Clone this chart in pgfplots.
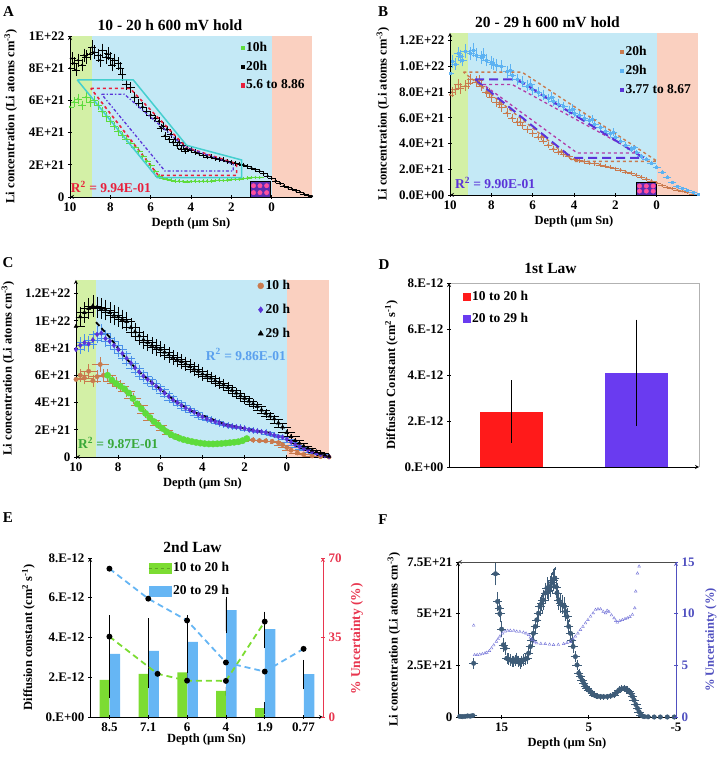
\documentclass[border=0pt]{standalone}
\usepackage{fontspec}
\setmainfont{Liberation Serif}
\usepackage{pgfplots}
\pgfplotsset{compat=1.18}
\definecolor{bgG}{HTML}{D3F0A6}
\definecolor{bgB}{HTML}{C4E9F6}
\definecolor{bgP}{HTML}{FAD0C0}
\definecolor{cGreen}{HTML}{5EDC3C}
\definecolor{cRed}{HTML}{E8203C}
\definecolor{cCyan}{HTML}{45CFCF}
\definecolor{cPurp}{HTML}{5B34D8}
\definecolor{cBrown}{HTML}{C97A4E}
\definecolor{cLBlue}{HTML}{5CB2F2}
\definecolor{cMag}{HTML}{B23AA8}
\definecolor{cBox}{HTML}{5A2DB0}
\definecolor{cPink}{HTML}{FF4FA0}
\definecolor{cBarR}{HTML}{FF1A1A}
\definecolor{cBarB}{HTML}{6A3BF0}
\definecolor{cEG}{HTML}{7CDC32}
\definecolor{cEB}{HTML}{66B6F4}
\definecolor{cERed}{HTML}{E8364F}
\definecolor{cF}{HTML}{3E5C78}
\definecolor{cFT}{HTML}{7474D8}
\definecolor{cFAx}{HTML}{5050C0}
\definecolor{cR2B}{HTML}{5AA0EE}
\definecolor{cR2G}{HTML}{38A838}
\definecolor{cErrB}{HTML}{4A90E8}
\newcommand\tickfont{\fontsize{13}{14}\selectfont\bfseries}
\newcommand\labfont{\fontsize{12.5}{14}\selectfont\bfseries}
\newcommand\legfont{\fontsize{13.5}{15}\selectfont\bfseries}
\newcommand\titfont{\fontsize{15.5}{17}\selectfont\bfseries}
\newcommand\letfont{\fontsize{15}{16}\selectfont\bfseries}
\pgfplotsset{
  base/.style={scale only axis, anchor=south west, axis on top,
    tick align=outside, major tick length=4pt,
    every tick/.append style={black, line width=0.7pt},
    tick label style={font=\tickfont},
    label style={font=\labfont},
    axis line style={-, black, line width=0.8pt},
    /pgf/number format/assume math mode=true,
    legend cell align=left},
  scat/.style={only marks, mark=*, mark size=0.9pt, #1,
    error bars/x dir=both, error bars/x fixed=0.15, error bars/y dir=both, error bars/y fixed relative=0.04,
    error bars/error bar style={line width=0.35pt, #1}, error bars/error mark options={mark size=1pt, #1}},
  scatC/.style 2 args={only marks, mark=#2, mark size=2.2pt, #1,
    error bars/x dir=both, error bars/x fixed=0.33, error bars/y dir=both, error bars/y fixed relative=0.06,
    error bars/error mark options={mark size=1.6pt}},
}
\begin{document}
\begin{tikzpicture}
\useasboundingbox (0,0) rectangle (719pt,757pt);
\node[font=\letfont] at (8.5pt,745pt) {A};
\node[font=\letfont] at (383pt,745.5pt) {B};
\node[font=\letfont] at (8pt,494pt) {C};
\node[font=\letfont] at (384pt,492pt) {D};
\node[font=\letfont] at (8pt,239pt) {E};
\node[font=\letfont] at (383pt,237pt) {F};
\node[font=\titfont] at (170pt,732pt) {10 - 20 h 600 mV hold};
\node[font=\titfont] at (547.5pt,735pt) {20 - 29 h 600 mV hold};
\node[font=\titfont] at (550.5pt,489pt) {1st Law};
\node[font=\titfont] at (192.5pt,210pt) {2nd Law};
\node[rotate=90, font=\fontsize{13.5}{15}\selectfont\bfseries, text=cERed] at (357pt,118pt) {\% Uncertainty (\%)};
\node[rotate=90, font=\labfont, text=cFAx] at (711pt,117pt) {\% Uncertainty (\%)};

% ---------------- A ----------------
\begin{axis}[base, at={(70pt,560pt)}, width=242pt, height=161pt,
  x dir=reverse, xmin=-2, xmax=10, ymin=0, ymax=10,
  axis x line=bottom, axis y line=left,
  xtick={10,8,6,4,2,0}, xticklabels={10,8,6,4,2,0},
  ytick={0,2,4,6,8,10}, yticklabels={0,2E+21,4E+21,6E+21,8E+21,1E+22},
  xlabel={Depth (µm Sn)}, ylabel={Li concentration (Li atoms cm\textsuperscript{-3})},
  ylabel style={yshift=5pt},
  legend style={at={(0.979,0.975)}, anchor=north east, draw=none, fill=none, font=\legfont, row sep=4pt, inner sep=0pt}]
\addplot[fill=bgG, draw=none, forget plot] coordinates {(10,10)(8.92,10)} \closedcycle;
\addplot[fill=bgB, draw=none, forget plot] coordinates {(8.92,10)(0,10)} \closedcycle;
\addplot[fill=bgP, draw=none, forget plot] coordinates {(0,10)(-2,10)} \closedcycle;
\addplot[forget plot, scat=cGreen] coordinates {(10.0,5.6)(9.8,5.9)(9.6,6.1)(9.4,5.7)(9.2,6.2)(9.0,5.9)(8.8,6.0)(8.6,5.7)(8.4,5.3)(8.2,5.0)(8.0,4.7)(7.8,4.4)(7.6,4.1)(7.4,3.85)(7.2,3.6)(7.0,3.35)(6.8,3.1)(6.6,2.85)(6.4,2.55)(6.2,2.25)(6.0,1.95)(5.8,1.6)(5.6,1.3)(5.4,1.15)(5.2,1.1)(5.0,1.05)(4.8,1.0)(4.6,1.0)(4.4,0.97)(4.2,0.95)(4.0,0.97)(3.8,1.0)(3.6,0.98)(3.4,1.0)(3.2,1.0)(3.0,1.0)(2.8,1.02)(2.6,1.05)(2.4,1.03)(2.2,1.05)(2.0,1.08)(1.8,1.1)(1.6,1.12)(1.4,1.15)(1.2,1.18)(1.0,1.2)(0.8,1.22)(0.6,1.2)};
\addplot[forget plot, scat=black] coordinates {(10.0,8.0)(9.8,8.3)(9.6,8.5)(9.4,8.2)(9.2,8.7)(9.0,8.9)(8.8,9.0)(8.6,8.8)(8.4,9.1)(8.2,8.7)(8.0,8.6)(7.8,8.5)(7.6,8.3)(7.4,7.6)(7.2,7.0)(7.0,6.8)(6.8,6.2)(6.6,5.8)(6.4,5.6)(6.2,5.3)(6.0,5.1)(5.8,4.9)(5.6,4.7)(5.4,4.4)(5.2,4.2)(5.0,3.9)(4.8,3.6)(4.6,3.4)(4.4,3.2)(4.2,3.0)(4.0,2.9)(3.8,2.8)(3.6,2.7)(3.4,2.6)(3.2,2.5)(3.0,2.5)(2.8,2.4)(2.6,2.35)(2.4,2.3)(2.2,2.2)(2.0,2.15)(1.8,2.1)(1.6,2.05)(1.4,2.0)(1.2,1.9)(1.0,1.8)(0.8,1.7)(0.6,1.6)(0.4,1.45)(0.2,1.3)(0.0,1.15)(-0.2,1.0)(-0.4,0.85)(-0.6,0.7)(-0.8,0.6)(-1.0,0.5)(-1.2,0.4)(-1.4,0.3)(-1.6,0.2)(-1.8,0.12)(-2.0,0.05)
(9.9,8.6)(9.7,7.9)(9.3,8.8)(8.9,9.3)(8.5,8.5)(8.1,8.9)(7.9,8.2)(7.5,8.0)(5.5,4.3)(5.3,3.8)(5.1,3.6)(4.9,3.4)(4.7,3.2)(4.5,3.0)(4.3,2.85)};
\addplot[fill=cBox, draw=black, line width=0.8pt, forget plot] coordinates {(1.07,0.97)(0.08,0.97)} \closedcycle;
\addplot[only marks, mark=*, mark size=2.2pt, cPink, forget plot] coordinates {(0.9,0.27)(0.58,0.27)(0.25,0.27)(0.9,0.7)(0.58,0.7)(0.25,0.7)};
\addplot[cCyan, line width=1.5pt, forget plot] coordinates {(9.64,7.27)(6.86,7.27)(4.22,3.21)(1.49,2.3)(1.49,1.2)(5.67,1.2)(9.64,7.27)};
\addplot[cRed, line width=1.6pt, dashed, forget plot] coordinates {(8.97,6.75)(7.03,6.75)(4.22,3.07)(1.74,2.07)(1.74,1.34)(5.62,1.34)(8.97,6.75)};
\addplot[cPurp, line width=1.3pt, dash dot, forget plot] coordinates {(8.43,6.38)(7.3,6.38)(4.3,3.1)(1.9,2.05)(1.9,1.61)(5.29,1.61)(8.43,6.38)};
\node[font=\legfont, color=cRed] at (axis cs:7.97,0.62) {R\textsuperscript{2} = 9.94E-01};
\addlegendimage{only marks, mark=square*, mark size=1.6pt, cGreen}
\addlegendimage{only marks, mark=square*, mark size=1.2pt, black}
\addlegendimage{only marks, mark=square*, mark size=1.6pt, cRed}
\legend{10h,20h,5.6 to 8.86}
\end{axis}

% ---------------- B ----------------
\begin{axis}[base, at={(450pt,562pt)}, width=248pt, height=162pt,
  x dir=reverse, xmin=-2, xmax=10, ymin=0, ymax=12.6,
  axis x line=bottom, axis y line=left,
  xtick={10,8,6,4,2,0}, xticklabels={10,8,6,4,2,0},
  ytick={0,2,4,6,8,10,12}, yticklabels={0.0E+00,2.0E+21,4.0E+21,6.0E+21,8.0E+21,1.0E+22,1.2E+22},
  xlabel={Depth (µm Sn)}, ylabel={Li concentration (Li atoms cm\textsuperscript{-3})},
  ylabel style={yshift=3pt},
  legend style={at={(0.98,0.93)}, anchor=north east, draw=none, fill=none, font=\legfont, row sep=4pt, inner sep=0pt}]
\addplot[fill=bgG, draw=none, forget plot] coordinates {(10,12.6)(9.13,12.6)} \closedcycle;
\addplot[fill=bgB, draw=none, forget plot] coordinates {(9.13,12.6)(0,12.6)} \closedcycle;
\addplot[fill=bgP, draw=none, forget plot] coordinates {(0,12.6)(-2,12.6)} \closedcycle;
\addplot[forget plot, scat=cBrown] coordinates {(10,7.8)(9.75,8.2)(9.5,8.3)(9.25,8.5)(9,9.0)(8.75,8.8)(8.5,8.5)(8.25,8.0)(8,7.6)(7.75,7.2)(7.5,6.8)(7.25,6.4)(7,6.0)(6.75,5.7)(6.5,5.4)(6.25,5.1)(6,4.8)(5.75,4.5)(5.5,4.2)(5.25,3.9)(5,3.6)(4.75,3.35)(4.5,3.15)(4.25,3.0)(4,2.8)(3.75,2.7)(3.5,2.6)(3.25,2.5)(3,2.45)(2.75,2.35)(2.5,2.25)(2.25,2.15)(2,2.05)(1.75,1.95)(1.5,1.8)(1.25,1.7)(1,1.55)(0.75,1.4)(0.5,1.25)(0.25,1.1)(0,0.95)(-0.25,0.75)(-0.5,0.6)(-0.75,0.5)(-1,0.4)(-1.25,0.3)(-1.5,0.2)(-1.75,0.1)(-2,0.05)
(9.9,8.0)(9.6,8.6)(9.1,8.7)(8.6,8.9)(8.1,7.9)(7.6,7.1)(6.6,5.7)(5.6,4.5)(4.6,3.4)};
\addplot[only marks, mark=square*, mark size=1pt, cLBlue, forget plot, error bars/.cd, x dir=both, x fixed=0.15, y dir=both, y fixed relative=0.04, error bar style={line width=0.35pt, cLBlue}, error mark options={mark size=1pt, cLBlue}] coordinates {(10,9.5)(9.75,10.2)(9.5,10.8)(9.25,11.2)(9,11.0)(8.75,10.9)(8.5,10.7)(8.25,10.5)(8,10.3)(7.75,10.1)(7.5,10.0)(7.25,9.6)(7,9.3)(6.75,9.0)(6.5,8.8)(6.25,8.5)(6,8.2)(5.75,8.0)(5.5,7.8)(5.25,7.5)(5,7.3)(4.75,7.1)(4.5,6.9)(4.25,6.6)(4,6.4)(3.75,6.2)(3.5,6.0)(3.25,5.8)(3,5.5)(2.75,5.3)(2.5,5.0)(2.25,4.8)(2,4.5)(1.75,4.2)(1.5,3.9)(1.25,3.6)(1,3.3)(0.75,3.0)(0.5,2.8)(0.25,2.5)(0,2.2)(-0.25,1.8)(-0.5,1.4)(-0.75,1.0)(-1,0.7)(-1.25,0.5)(-1.5,0.35)(-1.75,0.2)(-2,0.1)
(9.9,10.4)(9.6,11.0)(9.4,10.5)(8.9,11.3)(8.4,10.9)(7.9,10.2)(7.1,9.7)(6.1,8.6)(5.1,7.6)(4.1,6.7)(3.1,5.9)(2.1,4.9)(1.1,3.7)};
\addplot[fill=cBox, draw=black, line width=0.8pt, forget plot] coordinates {(1.0,0.96)(0.0,0.96)} \closedcycle;
\addplot[only marks, mark=*, mark size=2.2pt, cPink, forget plot] coordinates {(0.83,0.3)(0.5,0.3)(0.17,0.3)(0.83,0.7)(0.5,0.7)(0.17,0.7)};
\addplot[cBrown, line width=1.4pt, dashed, forget plot] coordinates {(9.35,9.56)(6.52,9.56)(-0.03,2.62)(4.0,2.62)(9.35,9.56)};
\addplot[cMag, line width=1.3pt, dashed, forget plot] coordinates {(8.4,8.6)(7.0,8.6)(0.94,3.27)(3.85,3.27)(8.4,8.6)};
\addplot[cPurp, line width=2pt, dash pattern=on 9pt off 5pt, forget plot] coordinates {(8.79,8.99)(6.76,8.99)(0.62,2.88)(4.1,2.88)(8.79,8.99)};
\node[font=\legfont, color=cPurp] at (axis cs:7.82,0.94) {R\textsuperscript{2} = 9.90E-01};
\addlegendimage{only marks, mark=square*, mark size=1.6pt, cBrown}
\addlegendimage{only marks, mark=square*, mark size=1.8pt, cLBlue}
\addlegendimage{only marks, mark=square*, mark size=1.6pt, cPurp}
\legend{20h,29h,3.77 to 8.67}
\end{axis}

% ---------------- C ----------------
\begin{axis}[base, at={(76pt,300pt)}, width=253pt, height=177pt,
  x dir=reverse, xmin=-2, xmax=10, ymin=0, ymax=13,
  axis x line=bottom, axis y line=left,
  xtick={10,8,6,4,2,0}, xticklabels={10,8,6,4,2,0},
  ytick={0,2,4,6,8,10,12}, yticklabels={0,2E+21,4E+21,6E+21,8E+21,1E+22,1.2E+22},
  xlabel={Depth (µm Sn)}, ylabel={Li concentration (Li atoms cm\textsuperscript{-3})},
  ylabel style={yshift=4pt},
  legend style={at={(0.855,1.01)}, anchor=north east, draw=none, fill=none, font=\legfont, row sep=9pt, inner sep=0pt}]
\addplot[fill=bgG, draw=none, forget plot] coordinates {(10,13)(9.05,13)} \closedcycle;
\addplot[fill=bgB, draw=none, forget plot] coordinates {(9.05,13)(0,13)} \closedcycle;
\addplot[fill=bgP, draw=none, forget plot] coordinates {(0,13)(-2,13)} \closedcycle;
\addplot[forget plot, scatC={cBrown}{*}] coordinates {(10,5.7)(9.8,6.0)(9.6,5.8)(9.4,6.3)(9.2,5.6)(9.0,5.9)(8.85,6.8)(8.7,6.0)(8.5,6.0)(8.3,5.6)(8.1,5.4)(7.9,5.2)(7.6,4.8)(7.3,4.3)(7.0,3.8)(6.7,3.2)(6.4,2.7)(6.1,2.35)(5.8,2.0)(5.5,1.65)(5.2,1.45)(4.9,1.28)(4.6,1.15)(4.3,1.07)(4.0,1.0)(3.7,0.96)(3.4,0.96)(3.1,0.99)(2.8,1.03)(2.5,1.08)(2.2,1.15)(1.9,1.3)(1.6,1.25)(1.3,1.2)(1.0,1.18)(0.7,1.15)(0.4,1.05)(0.2,0.9)(0.0,0.7)(-0.2,0.5)(-0.5,0.3)(-0.8,0.18)(-1.2,0.08)(-1.6,0.03)(-2.0,0.0)};
\addplot[only marks, mark=*, mark size=3.2pt, cGreen, forget plot] coordinates {(8.5,6.0)(8.3,5.65)(8.1,5.4)(7.9,5.2)(7.7,5.0)(7.5,4.7)(7.3,4.3)(7.1,3.9)(6.9,3.55)(6.7,3.2)(6.5,2.9)(6.3,2.6)(6.1,2.35)(5.9,2.1)(5.7,1.85)(5.5,1.65)(5.3,1.5)(5.1,1.38)(4.9,1.28)(4.7,1.2)(4.5,1.13)(4.3,1.07)(4.1,1.02)(3.9,0.98)(3.7,0.96)(3.5,0.96)(3.3,0.97)(3.1,0.99)(2.9,1.02)(2.7,1.05)(2.5,1.08)(2.3,1.12)(2.1,1.2)(1.9,1.35)};
\addplot[black, line width=1.8pt, dash pattern=on 1.8pt off 3.2pt, forget plot] coordinates {(8.5,6.0)(8.3,5.65)(8.1,5.4)(7.9,5.2)(7.7,5.0)(7.5,4.7)(7.3,4.3)(7.1,3.9)(6.9,3.55)(6.7,3.2)(6.5,2.9)(6.3,2.6)(6.1,2.35)(5.9,2.1)(5.7,1.85)(5.5,1.65)(5.3,1.5)(5.1,1.38)(4.9,1.28)(4.7,1.2)(4.5,1.13)(4.3,1.07)(4.1,1.02)(3.9,0.98)(3.7,0.96)(3.5,0.96)(3.3,0.97)(3.1,0.99)(2.9,1.02)(2.7,1.05)(2.5,1.08)(2.3,1.12)(2.1,1.2)(1.9,1.35)};
\addplot[only marks, mark=diamond*, mark size=2.4pt, cPurp, forget plot, error bars/.cd, x dir=both, x fixed=0.33, y dir=both, y fixed relative=0.06, error bar style={cErrB}, error mark options={mark size=1.6pt, cErrB}] coordinates {(10,7.9)(9.8,8.2)(9.6,8.4)(9.4,8.3)(9.2,8.6)(9.0,9.0)(8.8,9.1)(8.6,8.7)(8.4,8.5)(8.2,8.2)(8.0,7.9)(7.8,7.6)(7.6,7.25)(7.4,6.9)(7.2,6.55)(7.0,6.25)(6.8,5.95)(6.6,5.7)(6.4,5.45)(6.2,5.2)(6.0,4.95)(5.8,4.7)(5.6,4.45)(5.4,4.2)(5.2,4.0)(5.0,3.8)(4.8,3.6)(4.6,3.45)(4.4,3.3)(4.2,3.1)(4.0,2.95)(3.8,2.8)(3.6,2.7)(3.4,2.6)(3.2,2.5)(3.0,2.4)(2.8,2.3)(2.6,2.25)(2.4,2.2)(2.2,2.15)(2.0,2.1)(1.8,2.0)(1.6,1.95)(1.4,1.9)(1.2,1.85)(1.0,1.8)(0.8,1.7)(0.6,1.6)(0.4,1.5)(0.2,1.45)(0.0,1.3)(-0.2,1.1)(-0.4,0.9)(-0.6,0.75)(-0.8,0.6)(-1.0,0.5)(-1.2,0.38)(-1.4,0.28)(-1.6,0.18)(-1.8,0.1)(-2.0,0.03)};
\addplot[black, line width=1.8pt, dash pattern=on 5pt off 3pt, forget plot] coordinates {(9.05,9.9)(8.42,8.83)(7.63,7.24)(6.84,6.02)(6.05,5.05)(5.26,4.07)(4.47,3.34)(3.68,2.86)(2.89,2.37)(2.1,2.12)(1.31,1.88)(0.68,1.76)};
\addplot[forget plot, scatC={black}{triangle*}] coordinates {(10,9.6)(9.8,10.3)(9.6,10.6)(9.4,10.9)(9.2,11.1)(9.0,11.0)(8.8,10.9)(8.6,10.8)(8.4,10.6)(8.2,10.4)(8.0,10.3)(7.8,10.1)(7.6,9.95)(7.4,9.5)(7.2,9.2)(7.0,8.9)(6.8,8.6)(6.6,8.4)(6.4,8.2)(6.2,8.05)(6.0,7.9)(5.8,7.7)(5.6,7.5)(5.4,7.3)(5.2,7.15)(5.0,7.0)(4.8,6.85)(4.6,6.65)(4.4,6.45)(4.2,6.3)(4.0,6.1)(3.8,5.95)(3.6,5.8)(3.4,5.6)(3.2,5.45)(3.0,5.3)(2.8,5.1)(2.6,4.9)(2.4,4.7)(2.2,4.5)(2.0,4.3)(1.8,4.1)(1.6,3.9)(1.4,3.7)(1.2,3.45)(1.0,3.2)(0.8,3.0)(0.6,2.8)(0.4,2.5)(0.2,2.2)(0.0,1.8)(-0.2,1.5)(-0.4,1.2)(-0.6,1.0)(-0.8,0.8)(-1.0,0.65)(-1.2,0.5)(-1.4,0.38)(-1.6,0.27)(-1.8,0.15)(-2.0,0.05)};
\node[font=\legfont, color=cR2B] at (axis cs:1.94,7.53) {R\textsuperscript{2} = 9.86E-01};
\node[font=\legfont, color=cR2G] at (axis cs:8.0,1.02) {R\textsuperscript{2} = 9.87E-01};
\addlegendimage{only marks, mark=*, mark size=3pt, cBrown}
\addlegendimage{only marks, mark=diamond*, mark size=3pt, cPurp}
\addlegendimage{only marks, mark=triangle*, mark size=3pt, black}
\legend{10 h,20 h,29 h}
\end{axis}

% ---------------- D ----------------
\begin{axis}[base, at={(449pt,290pt)}, width=250pt, height=184pt, clip=false,
  xmin=0, xmax=2, ymin=0, ymax=8,
  axis x line=bottom, axis y line=left,
  xtick=\empty, ytick={0,2,4,6,8}, yticklabels={0.E+00,2.E-12,4.E-12,6.E-12,8.E-12},
  ylabel={Diffusion Constant (cm\textsuperscript{2} s\textsuperscript{-1})},
  legend style={at={(0.056,0.967)}, anchor=north west, draw=none, fill=none, font=\legfont, row sep=7pt, inner sep=0pt}]
\addplot[gray!60, line width=0.7pt, forget plot] coordinates {(0,8)(2,8)(2,0)};
\addplot[ybar, bar width=0.5, fill=cBarR, draw=none, forget plot, error bars/.cd, y dir=both, y explicit, error bar style={black, line width=0.7pt}, error mark options={black, mark size=3.5pt, line width=0.7pt}] coordinates {(0.5,2.4) += (0,1.23) -= (0,1.2)};
\addplot[ybar, bar width=0.5, fill=cBarB, draw=none, forget plot, error bars/.cd, y dir=both, y explicit, error bar style={black, line width=0.7pt}, error mark options={black, mark size=3.5pt, line width=0.7pt}] coordinates {(1.5,4.1) += (0,2.15) -= (0,2.15)};
\addlegendimage{only marks, mark=square*, mark size=3.5pt, cBarR}
\addlegendimage{only marks, mark=square*, mark size=3.5pt, cBarB}
\legend{10 to 20 h,20 to 29 h}
\end{axis}

% ---------------- E ----------------
\begin{axis}[base, at={(90pt,40pt)}, width=233pt, height=159pt,
  xmin=-0.5, xmax=5.5, ymin=0, ymax=8,
  axis x line=bottom, axis y line=left,
  xtick={0,1,2,3,4,5}, xticklabels={8.5,7.1,6,4,1.9,0.77},
  ytick={0,2,4,6,8}, yticklabels={0.E+00,2.E-12,4.E-12,6.E-12,8.E-12},
  xlabel={Depth (µm Sn)}, xlabel style={yshift=4pt},
  ylabel={Diffusion constant (cm\textsuperscript{2} s\textsuperscript{-1})},
  ylabel style={yshift=4pt},
  legend style={at={(0.249,0.985)}, anchor=north west, draw=none, fill=none, font=\legfont, row sep=8pt, inner sep=0pt}]
\addplot[ybar, bar width=0.25, bar shift=-0.125, fill=cEG, draw=none, forget plot, error bars/.cd, y dir=both, y explicit, error bar style={black, line width=0.7pt}, error mark options={black, mark size=2.5pt, line width=0.7pt}] coordinates {(0,1.87) += (0,0.63) -= (0,0.67) (1,2.17) += (0,0.47) -= (0,0.51) (2,2.25) += (0,0.35) -= (0,0.38) (3,1.32) += (0,0.2) -= (0,0.25) (4,0.45) += (0,0.17) -= (0,0.18)};
\addplot[ybar, bar width=0.27, bar shift=0.14, fill=cEB, draw=none, forget plot, error bars/.cd, y dir=both, y explicit, error bar style={black, line width=0.7pt}, error mark options={black, mark size=2.5pt, line width=0.7pt}] coordinates {(0,3.18) += (0,1.82) -= (0,2.1) (1,3.33) += (0,1.52) -= (0,1.75) (2,3.78) += (0,1.22) -= (0,1.43) (3,5.38) += (0,0.55) -= (0,1.05) (4,4.42) += (0,0.75) -= (0,0.83) (5,2.16) += (0,0.59) -= (0,0.64)};
\addlegendimage{legend image code/.code={\fill[cEG] (0pt,-5pt) rectangle (22pt,5pt); \draw[cEG!75!black, line width=1pt, dashed] (0pt,0pt) -- (22pt,0pt);}}
\addlegendimage{legend image code/.code={\fill[cEB] (0pt,-5pt) rectangle (22pt,5pt);}}
\legend{10 to 20 h,20 to 29 h}
\end{axis}
\begin{axis}[base, at={(90pt,40pt)}, width=233pt, height=159pt,
  xmin=-0.5, xmax=5.5, ymin=0, ymax=70,
  axis x line=none, axis y line=right,
  y axis line style={cERed}, ytick style={cERed},
  ytick={0,35,70}, yticklabels={0,35,70}, yticklabel style={cERed}]
\addplot[cEG, line width=1.8pt, dash pattern=on 6pt off 4pt, mark=*, mark size=2pt, mark options={black, solid}] coordinates {(0,35.4)(1.24,19)(2,16)(3,15.9)(4,42)};
\addplot[cEB, line width=1.8pt, dash pattern=on 6pt off 4pt, mark=*, mark size=2pt, mark options={black, solid}] coordinates {(0,65.3)(1,52.1)(2,42.5)(3,24)(4,20)(5,30)};
\end{axis}

% ---------------- F ----------------
\begin{axis}[base, at={(458pt,40pt)}, width=218pt, height=155pt,
  x dir=reverse, xmin=-5, xmax=20, ymin=0, ymax=7.5,
  axis x line=bottom, axis y line=left,
  xtick={15,5,-5}, xticklabels={15,5,-5},
  ytick={0,2.5,5,7.5}, yticklabels={0,2.5E+21,5E+21,7.5E+21},
  xlabel={Depth (µm Sn)},
  ylabel={Li concentration (Li atoms cm\textsuperscript{-3})}]
\addplot[only marks, mark=*, mark size=2.3pt, cF, error bars/.cd, x dir=both, x fixed=0.35, y dir=both, y fixed relative=0.07, error bar style={cF, line width=0.6pt}, error mark options={cF, mark size=1.6pt}] coordinates {(19.8,0.03)(19.5,0.02)(19.2,0.03)(18.9,0.05)(18.6,0.04)(18.3,0.07)(18.2,2.6)(15.7,6.93)(15.46,5.59)(15.27,5.27)(15.2,5.0)(15.0,4.25)(14.8,3.49)(14.6,3.33)(14.4,2.84)(14.2,2.8)(14.0,2.76)(13.8,2.7)(13.65,2.68)(13.45,2.75)(13.27,2.84)(13.1,2.7)(12.9,2.6)(12.7,2.7)(12.5,2.76)(12.3,2.8)(12.1,2.84)(11.9,3.09)(11.7,3.41)(11.5,3.73)(11.35,4.05)(11.15,4.38)(10.96,4.7)(10.77,5.02)(10.6,5.35)(10.4,5.5)(10.27,5.67)(10.0,6.0)(9.8,6.24)(9.6,6.1)(9.42,6.32)(9.25,6.5)(9.1,6.64)(8.9,6.72)(8.75,6.3)(8.65,6.0)(8.46,5.67)(8.25,5.5)(8.08,5.43)(7.8,5.35)(7.65,5.1)(7.5,4.86)(7.3,4.38)(7.1,4.05)(6.95,3.7)(6.8,3.41)(6.54,2.92)(6.35,2.52)(6.15,2.12)(5.96,1.95)(5.77,1.78)(5.58,1.63)(5.4,1.5)(5.19,1.39)(5.0,1.3)(4.8,1.23)(4.6,1.15)(4.42,1.07)(4.2,1.03)(4.0,1.0)(3.65,0.99)(3.3,0.98)(2.88,0.99)(2.5,1.02)(2.1,1.07)(1.8,1.2)(1.54,1.31)(1.25,1.36)(0.96,1.39)(0.75,1.35)(0.58,1.31)(0.4,1.25)(0.19,1.15)(0.0,1.0)(-0.19,0.82)(-0.4,0.6)(-0.58,0.42)(-0.77,0.25)(-0.96,0.1)(-1.15,0.05)(-1.35,0.02)(-1.8,0.01)(-2.5,0.0)(-3.2,0.0)(-4.0,0.0)(-4.8,0.0)};
\end{axis}
\begin{axis}[base, at={(458pt,40pt)}, width=218pt, height=155pt,
  x dir=reverse, xmin=-5, xmax=20, ymin=0, ymax=15,
  axis x line=top, axis y line=right, xtick=\empty,
  x axis line style={black!70}, y axis line style={cFAx}, ytick style={cFAx},
  ytick={0,5,10,15}, yticklabels={0,5,10,15}, yticklabel style={cFAx}]
\addplot[only marks, mark=triangle, mark size=1.6pt, cFT, line width=0.4pt] coordinates {(18.2,8.86)(18.1,6.0)(17.8,6.02)(17.5,6.05)(17.2,6.1)(16.9,6.18)(16.7,6.24)(16.4,6.4)(16.15,6.66)(15.9,6.95)(15.6,7.3)(15.4,7.55)(15.2,7.8)(14.9,8.1)(14.6,8.28)(14.3,8.35)(14.0,8.37)(13.6,8.35)(13.27,8.28)(12.9,8.25)(12.5,8.18)(12.2,8.1)(11.9,7.95)(11.7,7.7)(11.5,7.47)(11.2,7.25)(10.96,7.14)(10.5,7.1)(10.0,7.08)(9.5,7.02)(9.04,6.98)(8.5,7.0)(7.88,7.08)(7.5,7.18)(7.1,7.3)(6.8,7.55)(6.54,7.8)(6.25,8.1)(5.96,8.44)(5.67,8.75)(5.38,9.08)(5.1,9.4)(4.8,9.73)(4.5,10.05)(4.23,10.38)(3.95,10.45)(3.65,10.44)(3.35,10.2)(3.08,10.05)(2.9,10.3)(2.7,10.2)(2.4,9.85)(2.1,9.57)(1.9,9.3)(1.73,9.15)(1.45,9.3)(1.15,9.4)(0.85,9.5)(0.58,9.57)(0.3,9.7)(0.0,9.9)(-0.27,10.54)(-0.38,12.16)(-0.58,13.9)(-0.77,14.58)};
\end{axis}
\end{tikzpicture}
\end{document}
